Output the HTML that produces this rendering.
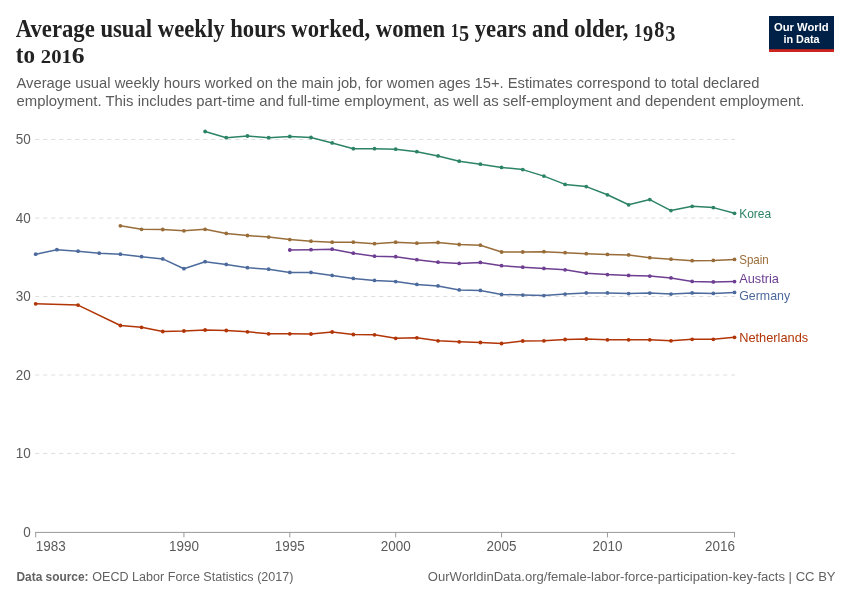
<!DOCTYPE html>
<html lang="en"><head><meta charset="utf-8"><title>Average usual weekly hours worked, women 15 years and older, 1983 to 2016</title>
<style>
html,body{margin:0;padding:0;background:#fff;}
body{width:850px;height:600px;overflow:hidden;font-family:"Liberation Sans",sans-serif;}
svg{display:block;will-change:transform;}
.t{font-family:"Liberation Serif",serif;font-weight:700;fill:#222;}
.s{font-family:"Liberation Sans",sans-serif;fill:#5b5b5b;}
.ax{font-family:"Liberation Sans",sans-serif;fill:#5b5b5b;font-size:14.2px;}
.lb{font-family:"Liberation Sans",sans-serif;font-size:13px;}
.ft{font-family:"Liberation Sans",sans-serif;fill:#626262;font-size:13.7px;}
.lg{font-family:"Liberation Sans",sans-serif;font-weight:700;fill:#fff;font-size:11.7px;}
</style></head><body>
<svg width="850" height="600" viewBox="0 0 850 600">
<rect x="0" y="0" width="850" height="600" fill="#fff"/>
<text class="t" x="15.8" y="36.8" font-size="25.2" textLength="659.5" lengthAdjust="spacingAndGlyphs">Average usual weekly hours worked, women <tspan font-size="18.2">1</tspan><tspan font-size="22.5" dy="4">5</tspan><tspan dy="-4"> years and older, </tspan><tspan font-size="18.2" letter-spacing="1">1</tspan><tspan font-size="22.5" dy="4" letter-spacing="1">9</tspan><tspan font-size="22.5" dy="-4" letter-spacing="1">8</tspan><tspan font-size="22.5" dy="4">3</tspan></text>
<text class="t" x="15.8" y="62.7" font-size="25.2" textLength="19.2" lengthAdjust="spacingAndGlyphs">to</text>
<text class="t" x="40.8" y="62.7" font-size="25.2" textLength="43.8" lengthAdjust="spacingAndGlyphs"><tspan font-size="18.2">201</tspan><tspan font-size="22.5">6</tspan></text>
<text class="s" x="16.5" y="87.8" font-size="14.3" textLength="743" lengthAdjust="spacingAndGlyphs">Average usual weekly hours worked on the main job, for women ages 15+. Estimates correspond to total declared</text>
<text class="s" x="16.5" y="106.0" font-size="14.3" textLength="788" lengthAdjust="spacingAndGlyphs">employment. This includes part-time and full-time employment, as well as self-employment and dependent employment.</text>
<rect x="769" y="16" width="65" height="36" fill="#002147"/><rect x="769" y="49.2" width="65" height="2.8" fill="#ce261e"/>
<text class="lg" x="801.3" y="30.5" text-anchor="middle" textLength="54.7" lengthAdjust="spacingAndGlyphs">Our World</text>
<text class="lg" x="801.5" y="42.6" text-anchor="middle" textLength="36.2" lengthAdjust="spacingAndGlyphs">in Data</text>
<line x1="35.3" x2="735" y1="139.5" y2="139.5" stroke="#dddddd" stroke-width="1" stroke-dasharray="4,4"/>
<text class="ax" transform="translate(30.7,144.4) scale(0.95,1)" text-anchor="end">50</text>
<line x1="35.3" x2="735" y1="218.0" y2="218.0" stroke="#dddddd" stroke-width="1" stroke-dasharray="4,4"/>
<text class="ax" transform="translate(30.7,222.9) scale(0.95,1)" text-anchor="end">40</text>
<line x1="35.3" x2="735" y1="296.5" y2="296.5" stroke="#dddddd" stroke-width="1" stroke-dasharray="4,4"/>
<text class="ax" transform="translate(30.7,301.4) scale(0.95,1)" text-anchor="end">30</text>
<line x1="35.3" x2="735" y1="375.0" y2="375.0" stroke="#dddddd" stroke-width="1" stroke-dasharray="4,4"/>
<text class="ax" transform="translate(30.7,379.9) scale(0.95,1)" text-anchor="end">20</text>
<line x1="35.3" x2="735" y1="453.5" y2="453.5" stroke="#dddddd" stroke-width="1" stroke-dasharray="4,4"/>
<text class="ax" transform="translate(30.7,458.4) scale(0.95,1)" text-anchor="end">10</text>
<text class="ax" transform="translate(30.7,536.9) scale(0.95,1)" text-anchor="end">0</text>
<line x1="35.2" x2="735.1" y1="532.4" y2="532.4" stroke="#999" stroke-width="1"/>
<line x1="35.7" x2="35.7" y1="532.4" y2="537.4" stroke="#999" stroke-width="1"/>
<text class="ax" transform="translate(35.7,550.8) scale(0.95,1)" text-anchor="start">1983</text>
<line x1="183.93" x2="183.93" y1="532.4" y2="537.4" stroke="#999" stroke-width="1"/>
<text class="ax" transform="translate(183.93,550.8) scale(0.95,1)" text-anchor="middle">1990</text>
<line x1="289.81" x2="289.81" y1="532.4" y2="537.4" stroke="#999" stroke-width="1"/>
<text class="ax" transform="translate(289.81,550.8) scale(0.95,1)" text-anchor="middle">1995</text>
<line x1="395.69" x2="395.69" y1="532.4" y2="537.4" stroke="#999" stroke-width="1"/>
<text class="ax" transform="translate(395.69,550.8) scale(0.95,1)" text-anchor="middle">2000</text>
<line x1="501.57" x2="501.57" y1="532.4" y2="537.4" stroke="#999" stroke-width="1"/>
<text class="ax" transform="translate(501.57,550.8) scale(0.95,1)" text-anchor="middle">2005</text>
<line x1="607.45" x2="607.45" y1="532.4" y2="537.4" stroke="#999" stroke-width="1"/>
<text class="ax" transform="translate(607.45,550.8) scale(0.95,1)" text-anchor="middle">2010</text>
<line x1="734.51" x2="734.51" y1="532.4" y2="537.4" stroke="#999" stroke-width="1"/>
<text class="ax" transform="translate(734.9,550.8) scale(0.95,1)" text-anchor="end">2016</text>
<polyline fill="none" stroke="#B13507" stroke-width="1.5" stroke-linejoin="round" stroke-linecap="round" points="35.7,303.8 78.05,305.1 120.4,325.5 141.58,327.3 162.76,331.5 183.93,331.0 205.11,330.0 226.28,330.5 247.46,331.8 268.64,333.8 289.81,333.8 310.99,334.0 332.16,332.0 353.34,334.5 374.52,334.8 395.69,338.3 416.87,337.8 438.04,340.8 459.22,341.8 480.4,342.5 501.57,343.5 522.75,341.0 543.92,340.8 565.1,339.5 586.28,339.0 607.45,339.8 628.63,339.8 649.8,339.8 670.98,340.8 692.16,339.3 713.33,339.3 734.51,337.3"/>
<g fill="#B13507"><circle cx="35.7" cy="303.8" r="1.9"/><circle cx="78.05" cy="305.1" r="1.9"/><circle cx="120.4" cy="325.5" r="1.9"/><circle cx="141.58" cy="327.3" r="1.9"/><circle cx="162.76" cy="331.5" r="1.9"/><circle cx="183.93" cy="331.0" r="1.9"/><circle cx="205.11" cy="330.0" r="1.9"/><circle cx="226.28" cy="330.5" r="1.9"/><circle cx="247.46" cy="331.8" r="1.9"/><circle cx="268.64" cy="333.8" r="1.9"/><circle cx="289.81" cy="333.8" r="1.9"/><circle cx="310.99" cy="334.0" r="1.9"/><circle cx="332.16" cy="332.0" r="1.9"/><circle cx="353.34" cy="334.5" r="1.9"/><circle cx="374.52" cy="334.8" r="1.9"/><circle cx="395.69" cy="338.3" r="1.9"/><circle cx="416.87" cy="337.8" r="1.9"/><circle cx="438.04" cy="340.8" r="1.9"/><circle cx="459.22" cy="341.8" r="1.9"/><circle cx="480.4" cy="342.5" r="1.9"/><circle cx="501.57" cy="343.5" r="1.9"/><circle cx="522.75" cy="341.0" r="1.9"/><circle cx="543.92" cy="340.8" r="1.9"/><circle cx="565.1" cy="339.5" r="1.9"/><circle cx="586.28" cy="339.0" r="1.9"/><circle cx="607.45" cy="339.8" r="1.9"/><circle cx="628.63" cy="339.8" r="1.9"/><circle cx="649.8" cy="339.8" r="1.9"/><circle cx="670.98" cy="340.8" r="1.9"/><circle cx="692.16" cy="339.3" r="1.9"/><circle cx="713.33" cy="339.3" r="1.9"/><circle cx="734.51" cy="337.3" r="1.9"/></g>
<text class="lb" x="739.2" y="341.5" fill="#B13507" textLength="69" lengthAdjust="spacingAndGlyphs">Netherlands</text>
<polyline fill="none" stroke="#4C6A9C" stroke-width="1.5" stroke-linejoin="round" stroke-linecap="round" points="35.7,254.2 56.88,249.7 78.05,251.2 99.23,253.2 120.4,254.2 141.58,256.7 162.76,258.9 183.93,268.7 205.11,261.7 226.28,264.4 247.46,267.7 268.64,269.2 289.81,272.4 310.99,272.4 332.16,275.4 353.34,278.4 374.52,280.4 395.69,281.6 416.87,284.4 438.04,285.9 459.22,289.9 480.4,290.4 501.57,294.4 522.75,295.1 543.92,295.6 565.1,294.1 586.28,292.9 607.45,292.9 628.63,293.6 649.8,293.1 670.98,294.1 692.16,292.9 713.33,293.4 734.51,292.4"/>
<g fill="#4C6A9C"><circle cx="35.7" cy="254.2" r="1.9"/><circle cx="56.88" cy="249.7" r="1.9"/><circle cx="78.05" cy="251.2" r="1.9"/><circle cx="99.23" cy="253.2" r="1.9"/><circle cx="120.4" cy="254.2" r="1.9"/><circle cx="141.58" cy="256.7" r="1.9"/><circle cx="162.76" cy="258.9" r="1.9"/><circle cx="183.93" cy="268.7" r="1.9"/><circle cx="205.11" cy="261.7" r="1.9"/><circle cx="226.28" cy="264.4" r="1.9"/><circle cx="247.46" cy="267.7" r="1.9"/><circle cx="268.64" cy="269.2" r="1.9"/><circle cx="289.81" cy="272.4" r="1.9"/><circle cx="310.99" cy="272.4" r="1.9"/><circle cx="332.16" cy="275.4" r="1.9"/><circle cx="353.34" cy="278.4" r="1.9"/><circle cx="374.52" cy="280.4" r="1.9"/><circle cx="395.69" cy="281.6" r="1.9"/><circle cx="416.87" cy="284.4" r="1.9"/><circle cx="438.04" cy="285.9" r="1.9"/><circle cx="459.22" cy="289.9" r="1.9"/><circle cx="480.4" cy="290.4" r="1.9"/><circle cx="501.57" cy="294.4" r="1.9"/><circle cx="522.75" cy="295.1" r="1.9"/><circle cx="543.92" cy="295.6" r="1.9"/><circle cx="565.1" cy="294.1" r="1.9"/><circle cx="586.28" cy="292.9" r="1.9"/><circle cx="607.45" cy="292.9" r="1.9"/><circle cx="628.63" cy="293.6" r="1.9"/><circle cx="649.8" cy="293.1" r="1.9"/><circle cx="670.98" cy="294.1" r="1.9"/><circle cx="692.16" cy="292.9" r="1.9"/><circle cx="713.33" cy="293.4" r="1.9"/><circle cx="734.51" cy="292.4" r="1.9"/></g>
<text class="lb" x="739.2" y="300.0" fill="#4C6A9C" textLength="51" lengthAdjust="spacingAndGlyphs">Germany</text>
<polyline fill="none" stroke="#6D3E91" stroke-width="1.5" stroke-linejoin="round" stroke-linecap="round" points="289.81,250.0 310.99,249.7 332.16,249.2 353.34,253.2 374.52,256.2 395.69,256.7 416.87,259.7 438.04,262.2 459.22,263.4 480.4,262.4 501.57,265.7 522.75,267.2 543.92,268.4 565.1,269.8 586.28,273.2 607.45,274.6 628.63,275.4 649.8,276.1 670.98,277.9 692.16,281.4 713.33,281.9 734.51,281.6"/>
<g fill="#6D3E91"><circle cx="289.81" cy="250.0" r="1.9"/><circle cx="310.99" cy="249.7" r="1.9"/><circle cx="332.16" cy="249.2" r="1.9"/><circle cx="353.34" cy="253.2" r="1.9"/><circle cx="374.52" cy="256.2" r="1.9"/><circle cx="395.69" cy="256.7" r="1.9"/><circle cx="416.87" cy="259.7" r="1.9"/><circle cx="438.04" cy="262.2" r="1.9"/><circle cx="459.22" cy="263.4" r="1.9"/><circle cx="480.4" cy="262.4" r="1.9"/><circle cx="501.57" cy="265.7" r="1.9"/><circle cx="522.75" cy="267.2" r="1.9"/><circle cx="543.92" cy="268.4" r="1.9"/><circle cx="565.1" cy="269.8" r="1.9"/><circle cx="586.28" cy="273.2" r="1.9"/><circle cx="607.45" cy="274.6" r="1.9"/><circle cx="628.63" cy="275.4" r="1.9"/><circle cx="649.8" cy="276.1" r="1.9"/><circle cx="670.98" cy="277.9" r="1.9"/><circle cx="692.16" cy="281.4" r="1.9"/><circle cx="713.33" cy="281.9" r="1.9"/><circle cx="734.51" cy="281.6" r="1.9"/></g>
<text class="lb" x="739.2" y="282.5" fill="#6D3E91" textLength="39.75" lengthAdjust="spacingAndGlyphs">Austria</text>
<polyline fill="none" stroke="#996D39" stroke-width="1.5" stroke-linejoin="round" stroke-linecap="round" points="120.4,225.8 141.58,229.3 162.76,229.5 183.93,230.8 205.11,229.3 226.28,233.4 247.46,235.5 268.64,237.1 289.81,239.6 310.99,241.2 332.16,242.2 353.34,242.2 374.52,243.7 395.69,242.2 416.87,243.2 438.04,242.5 459.22,244.5 480.4,245.2 501.57,252.0 522.75,252.0 543.92,251.7 565.1,252.7 586.28,253.7 607.45,254.4 628.63,254.9 649.8,257.7 670.98,259.2 692.16,260.7 713.33,260.4 734.51,259.4"/>
<g fill="#996D39"><circle cx="120.4" cy="225.8" r="1.9"/><circle cx="141.58" cy="229.3" r="1.9"/><circle cx="162.76" cy="229.5" r="1.9"/><circle cx="183.93" cy="230.8" r="1.9"/><circle cx="205.11" cy="229.3" r="1.9"/><circle cx="226.28" cy="233.4" r="1.9"/><circle cx="247.46" cy="235.5" r="1.9"/><circle cx="268.64" cy="237.1" r="1.9"/><circle cx="289.81" cy="239.6" r="1.9"/><circle cx="310.99" cy="241.2" r="1.9"/><circle cx="332.16" cy="242.2" r="1.9"/><circle cx="353.34" cy="242.2" r="1.9"/><circle cx="374.52" cy="243.7" r="1.9"/><circle cx="395.69" cy="242.2" r="1.9"/><circle cx="416.87" cy="243.2" r="1.9"/><circle cx="438.04" cy="242.5" r="1.9"/><circle cx="459.22" cy="244.5" r="1.9"/><circle cx="480.4" cy="245.2" r="1.9"/><circle cx="501.57" cy="252.0" r="1.9"/><circle cx="522.75" cy="252.0" r="1.9"/><circle cx="543.92" cy="251.7" r="1.9"/><circle cx="565.1" cy="252.7" r="1.9"/><circle cx="586.28" cy="253.7" r="1.9"/><circle cx="607.45" cy="254.4" r="1.9"/><circle cx="628.63" cy="254.9" r="1.9"/><circle cx="649.8" cy="257.7" r="1.9"/><circle cx="670.98" cy="259.2" r="1.9"/><circle cx="692.16" cy="260.7" r="1.9"/><circle cx="713.33" cy="260.4" r="1.9"/><circle cx="734.51" cy="259.4" r="1.9"/></g>
<text class="lb" x="739.2" y="264.0" fill="#996D39" textLength="29.5" lengthAdjust="spacingAndGlyphs">Spain</text>
<polyline fill="none" stroke="#2C8465" stroke-width="1.5" stroke-linejoin="round" stroke-linecap="round" points="205.11,131.5 226.28,137.7 247.46,136.0 268.64,137.7 289.81,136.5 310.99,137.5 332.16,142.9 353.34,148.7 374.52,148.7 395.69,149.2 416.87,151.7 438.04,155.9 459.22,161.2 480.4,164.2 501.57,167.4 522.75,169.6 543.92,176.1 565.1,184.4 586.28,186.6 607.45,194.8 628.63,204.8 649.8,199.6 670.98,210.6 692.16,206.3 713.33,207.6 734.51,213.3"/>
<g fill="#2C8465"><circle cx="205.11" cy="131.5" r="1.9"/><circle cx="226.28" cy="137.7" r="1.9"/><circle cx="247.46" cy="136.0" r="1.9"/><circle cx="268.64" cy="137.7" r="1.9"/><circle cx="289.81" cy="136.5" r="1.9"/><circle cx="310.99" cy="137.5" r="1.9"/><circle cx="332.16" cy="142.9" r="1.9"/><circle cx="353.34" cy="148.7" r="1.9"/><circle cx="374.52" cy="148.7" r="1.9"/><circle cx="395.69" cy="149.2" r="1.9"/><circle cx="416.87" cy="151.7" r="1.9"/><circle cx="438.04" cy="155.9" r="1.9"/><circle cx="459.22" cy="161.2" r="1.9"/><circle cx="480.4" cy="164.2" r="1.9"/><circle cx="501.57" cy="167.4" r="1.9"/><circle cx="522.75" cy="169.6" r="1.9"/><circle cx="543.92" cy="176.1" r="1.9"/><circle cx="565.1" cy="184.4" r="1.9"/><circle cx="586.28" cy="186.6" r="1.9"/><circle cx="607.45" cy="194.8" r="1.9"/><circle cx="628.63" cy="204.8" r="1.9"/><circle cx="649.8" cy="199.6" r="1.9"/><circle cx="670.98" cy="210.6" r="1.9"/><circle cx="692.16" cy="206.3" r="1.9"/><circle cx="713.33" cy="207.6" r="1.9"/><circle cx="734.51" cy="213.3" r="1.9"/></g>
<text class="lb" x="739.2" y="218.0" fill="#2C8465" textLength="32" lengthAdjust="spacingAndGlyphs">Korea</text>
<text class="ft" x="16.5" y="580.7" font-weight="700" fill="#6a6a6a" textLength="72" lengthAdjust="spacingAndGlyphs">Data source:</text>
<text class="ft" x="92.3" y="580.7" textLength="201.2" lengthAdjust="spacingAndGlyphs">OECD Labor Force Statistics (2017)</text>
<text class="ft" x="427.8" y="580.7" textLength="407.8" lengthAdjust="spacingAndGlyphs">OurWorldinData.org/female-labor-force-participation-key-facts | CC BY</text>
</svg>
</body></html>
